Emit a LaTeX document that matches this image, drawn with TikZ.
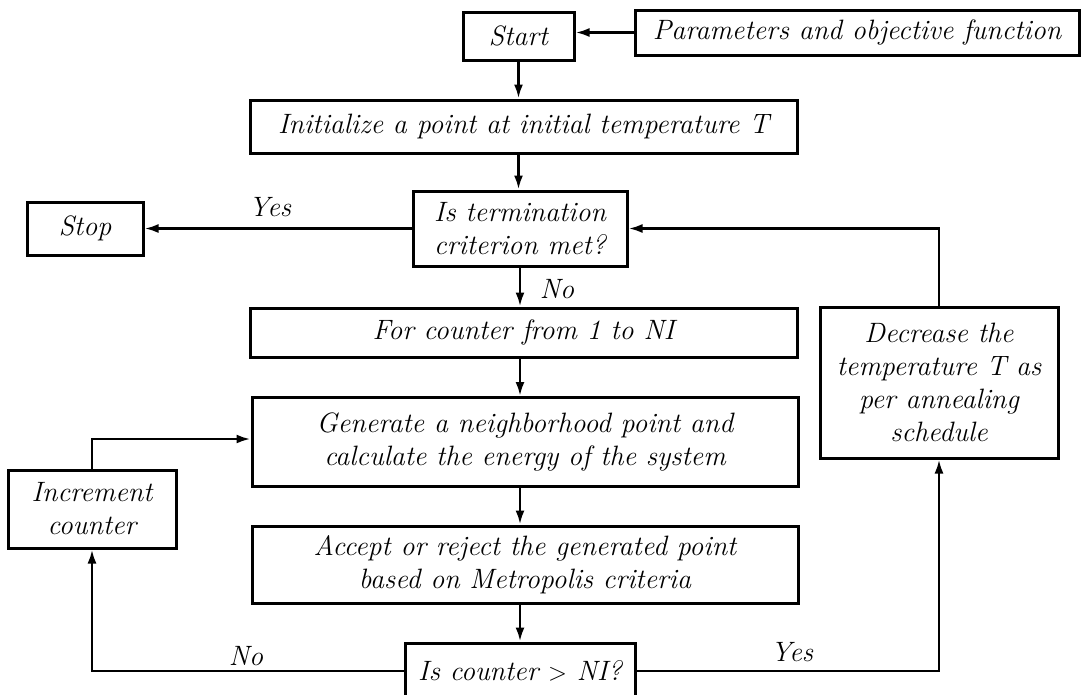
\documentclass[tikz,border=0pt]{standalone}
\usetikzlibrary{arrows.meta}
\begin{document}
\begin{tikzpicture}[x=1pt,y=-1pt,
  box/.style={draw,line width=3pt,inner sep=0pt,align=center,font=\fontsize{28}{33}\selectfont\itshape},
  conn/.style={line width=2.6pt,-{Latex[length=14pt,width=9pt]}},
  lbl/.style={font=\fontsize{28}{33}\selectfont\itshape,inner sep=0pt}]
\useasboundingbox (0,0) rectangle (1083,694);
\clip (0,0) rectangle (1083,694);
\node[box,minimum width=111pt,minimum height=48pt] (start) at (518.5,36) {Start};
\node[box,minimum width=444pt,minimum height=45pt] (params) at (857,32.5) {Parameters and objective function};
\node[box,minimum width=547pt,minimum height=53pt] (init) at (523.5,126.5) {Initialize a point at initial temperature T};
\node[box,minimum width=214pt,minimum height=75pt] (term) at (520,228.5) {Is termination\\criterion met?};
\node[box,minimum width=116pt,minimum height=53pt] (stop) at (85,228.5) {Stop};
\node[box,minimum width=547pt,minimum height=49pt] (forc) at (523.5,332.5) {For counter from 1 to NI};
\node[box,minimum width=546pt,minimum height=89pt] (gen) at (525,442) {Generate a neighborhood point and\\calculate the energy of the system};
\node[box,minimum width=546pt,minimum height=77pt] (acc) at (525,564.5) {Accept or reject the generated point\\based on Metropolis criteria};
\node[box,minimum width=168pt,minimum height=78pt] (incr) at (92,509) {Increment\\counter};
\node[box,minimum width=230pt,minimum height=56pt] (cnt) at (520,671) {Is counter $>$ NI?};
\node[box,minimum width=238pt,minimum height=151pt] (dec) at (939,382.5) {Decrease the\\temperature T as\\per annealing\\schedule};
\draw[conn] (params.west) -- (params.west -| start.east);
\draw[conn] (start.south) -- (start.south |- init.north);
\draw[conn] (start.south |- init.south) -- (start.south |- term.north);
\draw[conn] (term.west) -- (term.west -| stop.east);
\draw[conn] (term.south) -- (term.south |- forc.north);
\draw[conn] (term.south |- forc.south) -- (term.south |- gen.north);
\draw[conn] (term.south |- gen.south) -- (term.south |- acc.north);
\draw[conn] (term.south |- acc.south) -- (term.south |- cnt.north);
\draw[conn] (dec.north) |- (term.east);
\draw[conn] (cnt.east) -| (dec.south);
\draw[conn] (cnt.west) -| (incr.south);
\draw[conn] (incr.north) |- ([yshift=3pt]gen.west);
\node[lbl] (yes1) at (270,207) {Yes};
\node[lbl] (no1) at (557,289) {No};
\node[lbl] (yes2) at (792,652) {Yes};
\node[lbl] (no2) at (246,656) {No};
\end{tikzpicture}
\end{document}
